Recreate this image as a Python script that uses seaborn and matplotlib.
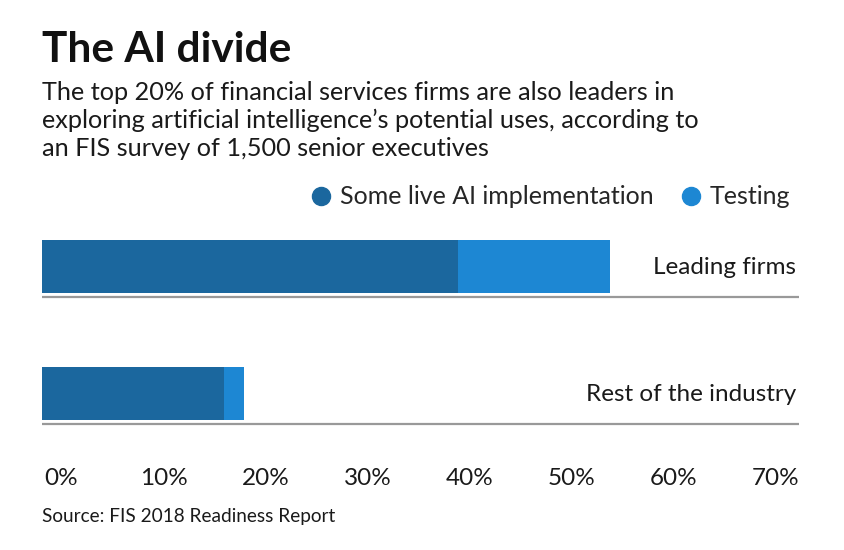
import matplotlib
matplotlib.use("Agg")
import matplotlib.pyplot as plt
import matplotlib.transforms as mtransforms
from matplotlib.lines import Line2D
import pandas as pd
import seaborn as sns

# Data (percent of firms)
groups = ["Leading firms", "Rest of the industry"]
live = [38.5, 16.8]
testing = [14.0, 1.9]
tick_values = [0, 10, 20, 30, 40, 50, 60, 70]
tick_labels = ["0%", "10%", "20%", "30%", "40%", "50%", "60%", "70%"]

dark = "#1b679e"
light = "#1d87d3"

df = pd.DataFrame({"group": groups, "live": live, "testing": testing})
df["total"] = df["live"] + df["testing"]

sns.set_style("white")
plt.rcParams["font.family"] = ["Lato", "DejaVu Sans"]

W, H = 844, 550
fig = plt.figure(figsize=(W / 100, H / 100), dpi=100)

# axes placed in pixel terms: x 42..799, y 230..430
ax = fig.add_axes([42 / W, 1 - 430 / H, (799 - 42) / W, 200 / H])

bar_w = 53 / 127
sns.barplot(data=df, y="group", x="total", color=light, orient="h",
            width=bar_w, saturation=1, linewidth=0, ax=ax)
sns.barplot(data=df, y="group", x="live", color=dark, orient="h",
            width=bar_w, saturation=1, linewidth=0, ax=ax)

ax.set_xlim(0, 70)
ax.set_ylim(1 + 36.5 / 127, -36.5 / 127)
ax.set_xlabel("")
ax.set_ylabel("")
ax.set_xticks([])
ax.set_yticks([])
sns.despine(ax=ax, left=True, bottom=True)

# baseline rule under each bar + category label at right
for i, g in enumerate(groups):
    ax.axhline(i + bar_w / 2 + 0.035, color="#999999", lw=1.6, zorder=1)
    ax.text(0.996, i + 0.06, g, transform=ax.get_yaxis_transform(),
            ha="right", va="baseline", fontsize=17.5, color="#1a1a1a")

# x tick labels, spread edge to edge
tr = mtransforms.blended_transform_factory(ax.transAxes, fig.transFigure)
c0, c1 = (61.5 - 42) / 757, (775.5 - 42) / 757
n = len(tick_values)
for i, lab in enumerate(tick_labels):
    ax.text(c0 + i * (c1 - c0) / (n - 1), 1 - 485 / H, lab, transform=tr,
            ha="center", va="baseline", fontsize=17.5, color="#1a1a1a")

# titles
fig.text(42 / W, 1 - 62 / H, "The AI divide", fontsize=30.5, fontweight="bold",
         color="#111111", va="baseline")
sub = ["The top 20% of financial services firms are also leaders in",
       "exploring artificial intelligence\u2019s potential uses, according to",
       "an FIS survey of 1,500 senior executives"]
for k, line in enumerate(sub):
    fig.text(42 / W, 1 - (100 + 28 * k) / H, line, fontsize=18.2,
             color="#1a1a1a", va="baseline")

# legend
handles = [Line2D([], [], marker="o", ls="", color=dark, markersize=13),
           Line2D([], [], marker="o", ls="", color=light, markersize=13)]
fig.legend(handles, ["Some live AI implementation", "Testing"], ncol=2,
           loc="center right", bbox_to_anchor=(800 / W, 1 - 197 / H),
           frameon=False, fontsize=18, handletextpad=0.25,
           columnspacing=1.0, handlelength=1.0, borderaxespad=0)

fig.text(42 / W, 1 - 522 / H, "Source: FIS 2018 Readiness Report",
         fontsize=13.7, color="#1a1a1a", va="baseline")

fig.savefig("out.png", dpi=100)
